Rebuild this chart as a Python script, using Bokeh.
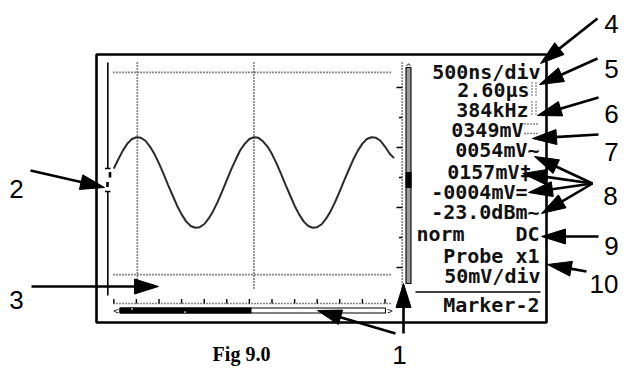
import math
from bokeh.plotting import figure
from bokeh.models import Range1d, ColumnDataSource
from bokeh.core.properties import value
from bokeh.embed import file_html
from bokeh.resources import INLINE

# ---------------- data ----------------
WAVE_T_US = [0.0, 0.1, 0.2, 0.3, 0.4, 0.5, 0.6, 0.7, 0.8, 0.9,
             1.0, 1.1, 1.2, 1.3, 1.4, 1.5, 1.6, 1.7, 1.8, 1.9,
             2.0, 2.1, 2.2, 2.3, 2.4, 2.5, 2.6, 2.7, 2.8, 2.9,
             3.0, 3.1, 3.2, 3.3, 3.4, 3.5, 3.6, 3.7, 3.8, 3.9,
             4.0, 4.1, 4.2, 4.3, 4.4, 4.5, 4.6, 4.7, 4.8, 4.9,
             5.0, 5.1, 5.2, 5.3, 5.4, 5.5, 5.6, 5.7, 5.8, 5.9,
             6.0, 6.1, 6.2]
WAVE_MV = [24, 40, 55, 67, 75, 78, 77, 72, 62, 49,
           33, 15, -4, -22, -40, -55, -67, -75, -78, -77,
           -72, -62, -49, -33, -15, 4, 23, 40, 56, 67,
           75, 78, 77, 71, 62, 49, 33, 15, -4, -22,
           -40, -55, -67, -75, -78, -77, -72, -62, -49, -33,
           -15, 4, 22, 40, 55, 67, 75, 78, 77, 72,
           62, 50, 42]
TIME_CURSORS_US = [0.52, 3.10]
VOLT_CURSORS_MV = [190, -159]
RULER_TICKS_US = [0.0, 0.5, 1.0, 1.5, 2.0, 2.5, 3.0, 3.5, 4.0, 4.5, 5.0, 5.5, 6.0]
PANEL_TEXT = ["500ns/div", "2.60µs", "384kHz", "0349mV", "0054mV~", "0157mV‡",
              "-0004mV=", "-23.0dBm~", "Probe x1", "50mV/div", "Marker-2"]
MODE_TEXT = ["norm", "DC"]
CALLOUTS = ["4", "5", "6", "7", "8", "9", "10", "2", "3", "1"]
CAPTION = "Fig 9.0"

# ---------------- layout (picture pixel space) ----------------
T0_PX, PX_PER_US = 113.3, 45.2
Y0_PX, PX_PER_MV = 182.0, 0.58
DOT = "#111111"

def tx(t):
    return T0_PX + t * PX_PER_US

def vy(mv):
    return Y0_PX - mv * PX_PER_MV

p = figure(width=619, height=371, x_range=Range1d(0, 619), y_range=Range1d(371, 0),
           x_axis_type=None, y_axis_type=None, toolbar_location=None,
           output_backend="svg", min_border=0)
p.outline_line_color = None
p.background_fill_color = "white"

# outer frame of the screen
p.quad(left=[96], right=[546], top=[54], bottom=[322], fill_color=None,
       line_color="black", line_width=2.6)

# cursors (dotted)
for t in TIME_CURSORS_US:
    p.line([tx(t), tx(t)], [62, 290], line_color=DOT, line_width=1.7, line_dash="1 2")
for mv in VOLT_CURSORS_MV:
    p.line([113, 392], [vy(mv), vy(mv)], line_color=DOT, line_width=1.7, line_dash="1 2")

# waveform
p.line([tx(t) for t in WAVE_T_US], [vy(v) for v in WAVE_MV],
       line_color="#2a2a2a", line_width=2.0)

# left trigger / channel line
p.segment(x0=[107.3, 107.3], y0=[62, 191], x1=[107.3, 107.3], y1=[168, 295],
          line_color="black", line_width=1.6)
p.segment(x0=[104.5, 104.5], y0=[168, 191], x1=[110, 110], y1=[168, 191],
          line_color="black", line_width=1.4)
p.segment(x0=[109.5, 107], y0=[171.5, 181.5], x1=[109.5, 107], y1=[177, 186.5],
          line_color="black", line_width=2.6)

# right dotted scale with ticks
p.line([401.7, 401.7], [62, 292], line_color=DOT, line_width=1.7, line_dash="1 2")
long_ticks = [87, 147, 207, 267]
short_ticks = [117, 177, 237]
p.segment(x0=[396] * 4, y0=long_ticks, x1=[401.7] * 4, y1=long_ticks, line_color="black", line_width=1.4)
p.segment(x0=[398.5] * 3, y0=short_ticks, x1=[401.7] * 3, y1=short_ticks, line_color="black", line_width=1.4)

# right scroll bar
p.quad(left=[405.5], right=[410.5], top=[67], bottom=[283], fill_color="#9a9a9a",
       line_color="black", line_width=1.1)
p.quad(left=[405.5], right=[410.5], top=[172], bottom=[187], fill_color="black",
       line_color="black", line_width=1.1)
p.text(x=[408], y=[66], text=["^"], text_font=value("DejaVu Sans Mono"),
       text_font_size=value("9px"), text_align="center", text_baseline="alphabetic",
       text_color="black")

# bottom ruler
p.line([113, 391], [303, 303], line_color=DOT, line_width=1.7, line_dash="1 2")
rx = [tx(t) for t in RULER_TICKS_US]
p.segment(x0=rx, y0=[298.5] * len(rx), x1=rx, y1=[303] * len(rx), line_color="black", line_width=1.4)

# bottom scroll bar
p.quad(left=[119.5], right=[385], top=[307.5], bottom=[312.5], fill_color="white",
       line_color="black", line_width=1.1)
p.quad(left=[119.5], right=[250.5], top=[307.5], bottom=[312.5], fill_color="black",
       line_color="black", line_width=1.1)
p.segment(x0=[131.5, 184.5], y0=[307.5, 310.8], x1=[131.5, 184.5], y1=[309.2, 312.5],
          line_color="white", line_width=1.2)
p.text(x=[115.5, 389.5], y=[310.5, 310.5], text=["<", ">"], text_font=value("DejaVu Sans Mono"),
       text_font_size=value("9px"), text_align="center", text_baseline="middle", text_color="black")

# right panel text (LCD look)
FONT_LCD = value("DejaVu Sans Mono")
LCD_SIZE = value("20px")
panel_right = [540, 529, 528, 523, 539, 531, 527, 539, 539, 540, 539]
panel_y = [71, 89.5, 109, 129, 149.5, 171, 191.5, 211.5, 255, 275, 304]
p.text(x=panel_right, y=panel_y, text=PANEL_TEXT, text_font=FONT_LCD,
       text_font_size=LCD_SIZE, text_font_style="bold", text_align="right",
       text_baseline="middle", text_color="#111")
p.text(x=[416], y=[233], text=[MODE_TEXT[0]], text_font=FONT_LCD,
       text_font_size=LCD_SIZE, text_font_style="bold", text_align="left",
       text_baseline="middle", text_color="#111")
p.text(x=[539], y=[233], text=[MODE_TEXT[1]], text_font=FONT_LCD,
       text_font_size=LCD_SIZE, text_font_style="bold", text_align="right",
       text_baseline="middle", text_color="#111")
p.segment(x0=[415], y0=[291.5], x1=[540], y1=[291.5], line_color="black", line_width=1.6)

# dotted indicators after the values
p.segment(x0=[531.5, 535.5, 531.5, 535.5], y0=[82, 82, 101, 101],
          x1=[531.5, 535.5, 531.5, 535.5], y1=[96, 96, 116, 116],
          line_color=DOT, line_width=1.3, line_dash="1 2")
p.segment(x0=[524, 524], y0=[123.5, 133], x1=[537, 537], y1=[123.5, 133],
          line_color=DOT, line_width=1.3, line_dash="1 2")

# callout arrows
arrows = [
    ((597, 18), (540, 63)),
    ((597, 58), (539, 84)),
    ((598, 97), (537, 115)),
    ((598, 134), (532, 138)),
    ((592, 183), (534, 156)),
    ((592, 183), (522, 173)),
    ((592, 183), (528, 192)),
    ((592, 183), (541, 213)),
    ((598, 236), (541, 236)),
    ((586, 271), (547, 264)),
    ((30, 170), (104, 187)),
    ((31, 286), (158, 286)),
    ((403, 333), (403, 283)),
    ((395, 333), (317, 310)),
]
HL, HW = 24.0, 7.5
sx0, sy0, sx1, sy1, hx, hy = [], [], [], [], [], []
for (x0, y0), (x1, y1) in arrows:
    dx, dy = x1 - x0, y1 - y0
    d = math.hypot(dx, dy)
    ux, uy = dx / d, dy / d
    bx, by = x1 - HL * ux, y1 - HL * uy
    nx, ny = -uy, ux
    sx0.append(x0); sy0.append(y0); sx1.append(bx + 2 * ux); sy1.append(by + 2 * uy)
    hx.append([x1, bx + HW * nx, bx - HW * nx])
    hy.append([y1, by + HW * ny, by - HW * ny])
p.segment(x0=sx0, y0=sy0, x1=sx1, y1=sy1, line_color="black", line_width=2.6)
p.patches(xs=hx, ys=hy, fill_color="black", line_color="black", line_width=1)

# callout numbers
num_x = [611, 611, 611, 611, 610, 611, 618, 16, 16, 399]
num_y = [23, 68, 113, 151, 195, 245, 283, 188, 299, 354]
num_align = ["center"] * 6 + ["right"] + ["center"] * 3
src = ColumnDataSource(dict(x=num_x, y=num_y, t=CALLOUTS, a=num_align))
p.text(x="x", y="y", text="t", source=src, text_font=value("Liberation Sans"),
       text_font_size=value("26px"), text_align="a", text_baseline="alphabetic",
       text_color="black")

# caption
p.text(x=[241], y=[353], text=[CAPTION], text_font=value("Liberation Serif"),
       text_font_size=value("20px"), text_font_style="bold", text_align="center",
       text_baseline="alphabetic", text_color="black")

open("out.html", "w").write(file_html(p, INLINE))
